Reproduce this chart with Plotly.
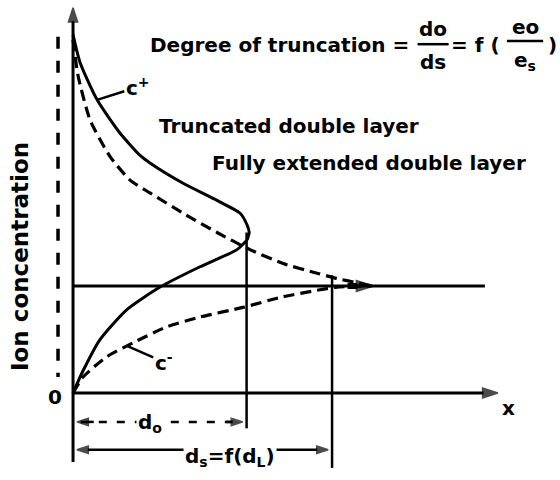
import plotly.graph_objects as go

# ---- data (distance from surface in arbitrary units, concentration relative to bulk) ----
bulk_conc = 1.0
d_o = 67.0          # truncated layer thickness
d_s = 100.0         # fully extended layer thickness

trunc_cplus_x = [0, 2.7, 9.3, 18.1, 25.9, 29.7, 42.5, 55.6, 64.5, 67.2, 68.0, 67.2]
trunc_cplus_y = [3.35, 3.09, 2.74, 2.43, 2.22, 2.15, 1.96, 1.80, 1.68, 1.57, 1.50, 1.43]

trunc_cminus_x = [0, 3.9, 10.4, 20.8, 33.6, 49.0, 63.3, 67.2]
trunc_cminus_y = [0, 0.21, 0.50, 0.78, 0.99, 1.18, 1.34, 1.43]

full_cplus_x = [0, 1.9, 6.6, 14.3, 22.0, 29.7, 42.5, 55.6, 68.3, 81.1, 94.2, 101.9, 109.7, 115.4]
full_cplus_y = [3.30, 2.97, 2.55, 2.21, 1.99, 1.87, 1.68, 1.50, 1.34, 1.21, 1.12, 1.07, 1.03, 1.00]

full_cminus_x = [0, 3.9, 13.1, 23.2, 36.3, 49.0, 65.6, 81.1, 94.2, 101.9, 115.4]
full_cminus_y = [0, 0.15, 0.34, 0.47, 0.62, 0.71, 0.80, 0.90, 0.96, 0.99, 1.00]

INK = "black"
FONT = "DejaVu Sans"

fig = go.Figure()


def line(x, y, width=3, dash="solid", shape="linear", head=0):
    """Polyline; if head > 0 an arrowhead of that size is put on the last point."""
    trace = dict(x=x, y=y, hoverinfo="skip",
                 line=dict(color=INK, width=width, dash=dash, shape=shape, smoothing=0.6))
    if head:
        sizes = [0] * (len(x) - 1) + [head]
        trace["mode"] = "lines+markers"
        trace["marker"] = dict(symbol="arrow", size=sizes, color=INK, angleref="previous",
                               line=dict(width=1.5, color=INK))
    else:
        trace["mode"] = "lines"
    fig.add_trace(go.Scatter(**trace))


# ion profiles
line(full_cplus_x, full_cplus_y, width=3.2, dash="11px,6px", shape="spline")
line(full_cminus_x, full_cminus_y, width=3.2, dash="11px,6px", shape="spline")
line(trunc_cplus_x, trunc_cplus_y, width=3, shape="spline")
line(trunc_cminus_x, trunc_cminus_y, width=3, shape="spline")

# bulk concentration level, with the convergence arrow
line([0, 159], [bulk_conc, bulk_conc], width=3)
line([106, 116], [bulk_conc, bulk_conc], width=6, head=18)

# axes
line([0, 0], [-0.645, 3.60], width=3, head=15)
line([0, 164], [0, 0], width=3, head=16)

# thickness markers
line([d_o, d_o], [1.50, -0.33], width=2.5)
line([d_s, d_s], [1.10, -0.70], width=2.5)

# dashed guide left of the ordinate
line([-5.8, -5.8], [3.33, 0.15], width=3.5, dash="12px,12px")

# dimension line for d_o (dashed, arrows at both ends)
line([3, d_o - 3], [-0.27, -0.27], width=2.5, dash="8px,10px")
line([8, 1.5], [-0.27, -0.27], width=2.5, head=12)
line([d_o - 8, d_o - 1.5], [-0.27, -0.27], width=2.5, head=12)

# dimension line for d_s (solid, arrows at both ends)
line([50, 1.5], [-0.53, -0.53], width=2.5, head=12)
line([50, d_s - 1.5], [-0.53, -0.53], width=2.5, head=12)

ann = []


def label(x, y, text, size=20, xanchor="center", yanchor="middle", angle=0, bg=None):
    d = dict(x=x, y=y, xref="x", yref="y", text=text, showarrow=False,
             xanchor=xanchor, yanchor=yanchor, textangle=angle,
             font=dict(family=FONT, size=size, color=INK, weight="bold"))
    if bg:
        d["bgcolor"] = bg
    ann.append(d)


# curve labels with leaders
ann.append(dict(x=9.3, y=2.74, ax=25, ay=2.86, xref="x", yref="y", axref="x", ayref="y",
                text="c<sup>+</sup>", showarrow=True, arrowhead=0, arrowwidth=2.5,
                arrowcolor=INK, standoff=0,
                font=dict(family=FONT, size=20, color=INK, weight="bold")))
ann.append(dict(x=20.8, y=0.44, ax=35, ay=0.29, xref="x", yref="y", axref="x", ayref="y",
                text="c<sup>-</sup>", showarrow=True, arrowhead=0, arrowwidth=2.5,
                arrowcolor=INK, standoff=0,
                font=dict(family=FONT, size=20, color=INK, weight="bold")))

# titles and text
label(29.0, 3.25, "Degree of truncation =", xanchor="left")
label(139, 3.40, "do")
label(139, 3.09, "ds")
label(145.2, 3.25, "= f (", xanchor="left")
label(174.5, 3.42, "eo")
label(174.5, 3.10, "e<sub>s</sub>")
label(187.5, 3.25, ")", xanchor="right")

label(32.4, 2.50, "Truncated double layer", xanchor="left")
label(52.9, 2.15, "Fully extended double layer", xanchor="left")

label(-20.5, 1.28, "Ion concentration", size=23, angle=-90)
label(-6.9, -0.04, "0")
label(168, -0.14, "x")
label(29.7, -0.28, "d<sub>o</sub>", bg="white")
label(60.6, -0.60, "d<sub>s</sub>=f(d<sub>L</sub>)", bg="white")

shapes = [
    dict(type="line", xref="x", yref="y", x0=133, x1=145, y0=3.26, y1=3.26,
         line=dict(color=INK, width=2.5)),
    dict(type="line", xref="x", yref="y", x0=167.5, x1=181.5, y0=3.29, y1=3.29,
         line=dict(color=INK, width=2.5)),
]

fig.update_layout(
    width=560, height=480,
    margin=dict(l=0, r=0, t=0, b=0),
    paper_bgcolor="white", plot_bgcolor="white",
    showlegend=False,
    annotations=ann, shapes=shapes,
    xaxis=dict(range=[-28.2, 188.0], visible=False, fixedrange=True),
    yaxis=dict(range=[-0.813, 3.673], visible=False, fixedrange=True),
)

fig.write_html("out.html")
